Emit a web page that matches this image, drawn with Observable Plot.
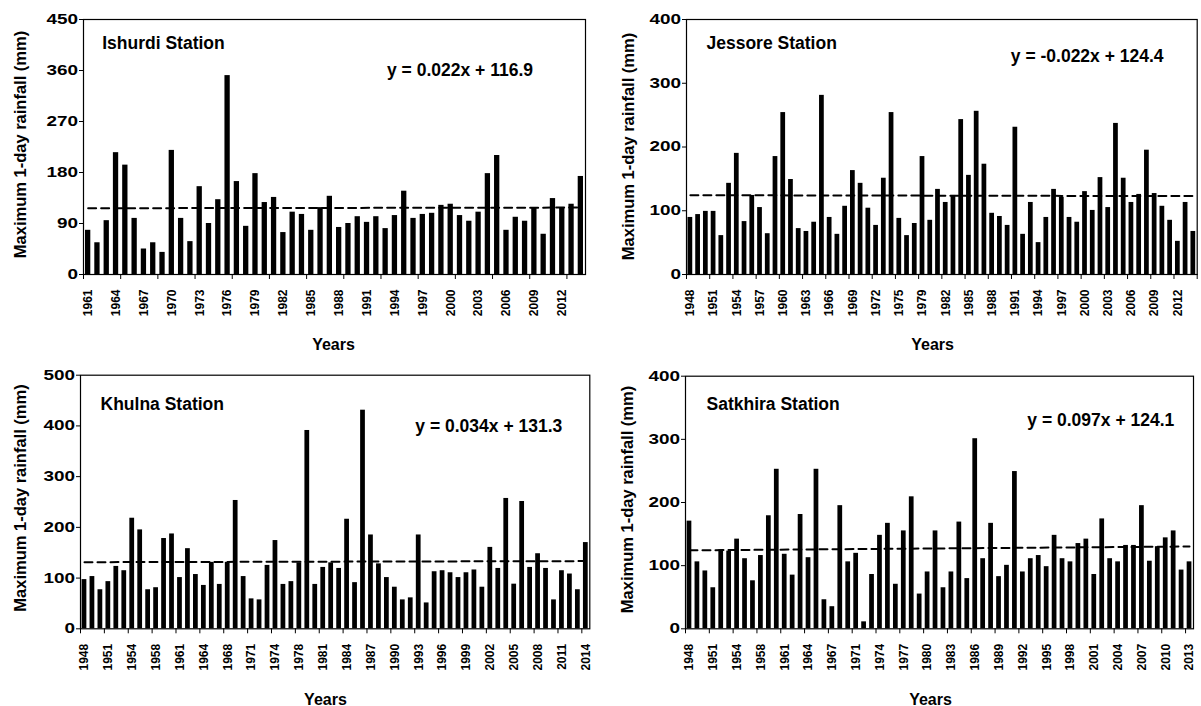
<!DOCTYPE html>
<html><head><meta charset="utf-8">
<script src="https://cdn.jsdelivr.net/npm/d3@7"></script>
<script src="https://cdn.jsdelivr.net/npm/@observablehq/plot@0.6"></script>
<style>
html,body{margin:0;padding:0;background:#fff;}
#root{position:relative;width:1201px;height:706px;overflow:hidden;background:#fff;}
.panel{position:absolute;}
</style></head><body><div id="root"></div>
<script>
// ---------------- data ----------------
const ishurdiYears = [1961,1962,1963,1964,1965,1966,1967,1968,1969,1970,1971,1972,1973,1974,1975,1976,1977,1978,1979,1980,1981,1982,1983,1984,1985,1986,1987,1988,1989,1990,1991,1992,1993,1994,1995,1996,1997,1998,1999,2000,2001,2002,2003,2004,2005,2006,2007,2008,2009,2010,2011,2012,2013,2014];
const ishurdiValues = [78,56,95,215,193,99,45,56,39,219,99,58,155,90,132,351,164,85,178,127,136,74,110,106,78,118,138,83,90,102,92,102,81,104,147,99,106,108,122,124,104,94,110,178,210,78,101,94,117,71,134,118,124,173];

const jessoreYears = [1948,1949,1950,1951,1952,1953,1954,1955,1956,1957,1958,1959,1960,1961,1962,1963,1964,1965,1966,1967,1968,1969,1970,1971,1972,1973,1974,1975,1976,1977,1979,1980,1981,1982,1983,1984,1985,1986,1987,1988,1989,1990,1991,1992,1993,1994,1995,1996,1997,1998,1999,2000,2001,2002,2003,2004,2005,2006,2007,2008,2009,2010,2011,2012,2013,2014];
const jessoreValues = [89.5,94,99,99,61,143,190,83,124,105,64,185,254,149,72,67.5,82,281,89.5,63,107,163,143,104,77,151,254,88,61,80,185,85,133.5,113,124,243,155.5,256,173,96,91,77,231,63,113,50,89.5,133.5,121,89.5,82,130,100.5,152,105,237,151,113,125.6,195,127,107,85,52,113,67.5];

const khulnaYears = [1948,1949,1950,1951,1952,1953,1954,1955,1956,1958,1959,1960,1961,1962,1963,1964,1965,1966,1968,1969,1970,1971,1972,1973,1974,1975,1976,1978,1979,1980,1981,1982,1983,1984,1985,1986,1987,1988,1989,1990,1991,1992,1993,1994,1995,1996,1997,1998,1999,2000,2001,2002,2003,2004,2005,2006,2007,2008,2009,2010,2011,2012,2013,2014];
const khulnaValues = [97,103,77,93,123,114.5,218,195,77,81,178,187,101,158,107,85.5,131,87.5,131,253,103,59,57,125,174,87.5,93,130,391,87.5,121,130,119,216,91,431,185,128,101,82,57,61,185,51,112.5,114.5,110.5,101,110.5,116,82,160.5,119,257,88,251,121,148,119,57,114.5,108,77,170];

const satkhiraYears = [1948,1949,1950,1951,1952,1953,1954,1955,1956,1958,1959,1960,1961,1962,1963,1964,1965,1966,1967,1968,1969,1971,1972,1973,1974,1975,1976,1977,1978,1979,1980,1981,1982,1983,1984,1985,1986,1987,1988,1989,1990,1991,1992,1993,1994,1995,1996,1997,1998,1999,2000,2001,2002,2003,2004,2005,2006,2007,2008,2009,2010,2011,2012,2013];
const satkhiraValues = [170.5,106,91.6,65,125,123,142,111,76,116,179,252.6,118,85,181,112.6,252.6,46,35,195,106,119.5,11,86,148,167,70.5,155,209,55,90,155,65,90,169,79.5,301,111,167,82.6,100.5,249,90,111,116,98.4,148,111,106,135,142,86,174,111,106,132,132,195,107,130,144,155,93,106];

const stationNames = ["Ishurdi Station","Jessore Station","Khulna Station","Satkhira Station"];
const equationLabels = ["y = 0.022x + 116.9","y = -0.022x + 124.4","y = 0.034x + 131.3","y = 0.097x + 124.1"];
const trendSlopes = [0.022,-0.022,0.034,0.097];
const trendIntercepts = [116.9,124.4,131.3,124.1];
const yTickSets = [[0,90,180,270,360,450],[0,100,200,300,400],[0,100,200,300,400,500],[0,100,200,300,400]];
const yTitle = "Maximum 1-day rainfall (mm)";
const xTitle = "Years";

// ---------------- drawing ----------------
const FONT = "'Liberation Sans', Arial, Helvetica, sans-serif";
const root = document.getElementById("root");

const layouts = [
  {left:0,   top:0,   w:600, h:353, ml:83, mr:15,  mt:19,   mb:79,   inset:2.0, tickEvery:4,
   st:[18.7,29], eq:[376.5,56], yt:[-63,-2.5], xt:[-1,75]},
  {left:600, top:0,   w:601, h:353, ml:86, mr:4.3, mt:19,   mb:79,   inset:1.5, tickEvery:3,
   st:[20,29.3], eq:[400.7,42.7], yt:[-58,-0.5], xt:[-9.3,75]},
  {left:0,   top:353, w:600, h:353, ml:80, mr:10.7,mt:21.7, mb:77.7, inset:1.6, tickEvery:3,
   st:[20,34.3], eq:[408.3,57], yt:[-60,-4], xt:[-9.7,75.7]},
  {left:600, top:353, w:601, h:353, ml:85, mr:8,   mt:22.7, mb:77.7, inset:1.6, tickEvery:3,
   st:[21,33.6], eq:[415.3,49.3], yt:[-58,-3], xt:[-9,75.7]}
];
const yearSets = [ishurdiYears, jessoreYears, khulnaYears, satkhiraYears];
const valueSets = [ishurdiValues, jessoreValues, khulnaValues, satkhiraValues];

layouts.forEach((p, k) => {
  const years = yearSets[k];
  const values = valueSets[k];
  const n = years.length;
  const data = values.map((v, i) => ({i, v}));
  const trend = [0, n - 1].map(i => ({i, v: trendSlopes[k] * (i + 1) + trendIntercepts[k]}));
  const labelIdx = d3.range(0, n, 3);
  const tickIdx = d3.range(-0.5, n, p.tickEvery);
  const yt = yTickSets[k];

  const svg = Plot.plot({
    width: p.w, height: p.h,
    marginLeft: p.ml, marginRight: p.mr, marginTop: p.mt, marginBottom: p.mb,
    style: {fontFamily: FONT, fontWeight: "bold", background: "transparent", color: "#000", overflow: "visible"},
    x: {type: "linear", domain: [-0.5, n - 0.5], label: null},
    y: {domain: [0, yt[yt.length - 1]], label: null},
    marks: [
      Plot.rectY(data, {x1: d => d.i - 0.5, x2: d => d.i + 0.5, y: "v", fill: "#000", insetLeft: p.inset, insetRight: p.inset}),
      Plot.line(trend, {x: "i", y: "v", stroke: "#000", strokeWidth: 2, strokeDasharray: "8,5"}),
      Plot.frame({stroke: "#000", strokeWidth: 1.2}),
      Plot.axisY({ticks: yt, tickSize: 4, tickPadding: 1.5, fontSize: 14, label: null}),
      Plot.axisX({ticks: labelIdx, tickFormat: i => String(years[i]), tickRotate: -90, textAnchor: "end", lineAnchor: "middle", tickSize: 0, tickPadding: 15, fontSize: 12, label: null}),
      Plot.axisX({ticks: tickIdx, tickFormat: () => "", tickSize: 5, label: null}),
      Plot.text([stationNames[k]], {text: d => d, frameAnchor: "top-left", textAnchor: "start", lineAnchor: "bottom", dx: p.st[0], dy: p.st[1], fontSize: 17.5}),
      Plot.text([equationLabels[k]], {text: d => d, frameAnchor: "top-left", textAnchor: "middle", lineAnchor: "bottom", dx: p.eq[0], dy: p.eq[1], fontSize: 17.5}),
      Plot.text([yTitle], {text: d => d, frameAnchor: "left", textAnchor: "middle", lineAnchor: "middle", rotate: -90, dx: p.yt[0], dy: p.yt[1], fontSize: 16.5}),
      Plot.text([xTitle], {text: d => d, frameAnchor: "bottom", textAnchor: "middle", lineAnchor: "bottom", dx: p.xt[0], dy: p.xt[1], fontSize: 16})
    ]
  });
  // widen y tick labels like the original
  svg.querySelectorAll('[aria-label="y-axis tick label"] text').forEach(t => {
    const tr = t.getAttribute("transform");
    if (tr) t.setAttribute("transform", tr + " scale(1.35,1)");
  });
  const div = document.createElement("div");
  div.className = "panel";
  div.style.left = p.left + "px";
  div.style.top = p.top + "px";
  div.appendChild(svg);
  root.appendChild(div);
});
</script>
</body></html>
